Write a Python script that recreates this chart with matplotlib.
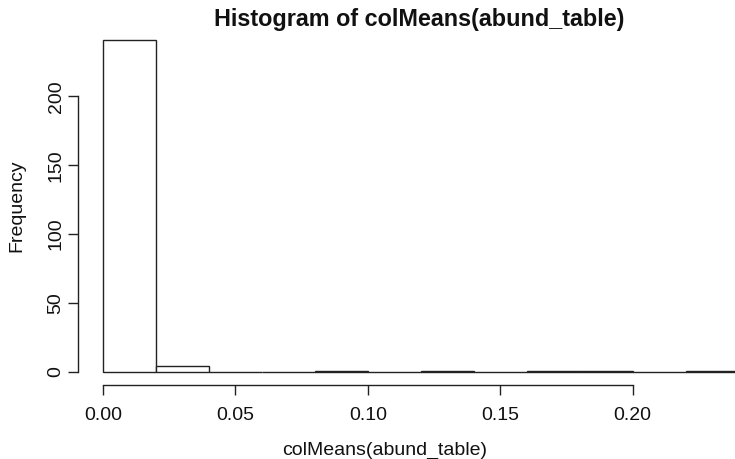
import matplotlib
matplotlib.use("Agg")
import matplotlib.pyplot as plt

# === DATA ===
breaks = [0.00, 0.02, 0.04, 0.06, 0.08, 0.10, 0.12, 0.14, 0.16, 0.18, 0.20, 0.22, 0.24]
counts = [241, 4, 0, 0, 1, 0, 1, 0, 1, 1, 0, 1]
x_ticks = [0.00, 0.05, 0.10, 0.15, 0.20]
x_labels = ["0.00", "0.05", "0.10", "0.15", "0.20"]
y_ticks = [0, 50, 100, 150, 200]

plt.rcParams['font.family'] = ['Liberation Sans', 'DejaVu Sans']

W, H = 735, 459
fig = plt.figure(figsize=(W / 100, H / 100), dpi=100)
# plot region in pixels (R style, cropped at the right)
left_px, right_px, top_px, bottom_px = 77.6, 764, 26.6, 385.2
ax = fig.add_axes([left_px / W, 1 - bottom_px / H,
                   (right_px - left_px) / W, (bottom_px - top_px) / H])

widths = [b - a for a, b in zip(breaks[:-1], breaks[1:])]
ax.bar(breaks[:-1], counts, width=widths, align='edge',
       color='white', edgecolor='#222222', linewidth=1.0)

ax.set_xlim(-0.0096, 0.2496)
ax.set_ylim(-9.64, 250.6)

for s in ['top', 'right']:
    ax.spines[s].set_visible(False)
ax.spines['left'].set_bounds(0, 200)
ax.spines['bottom'].set_bounds(0, 0.20)
for s in ['left', 'bottom']:
    ax.spines[s].set_linewidth(1.0)
    ax.spines[s].set_color('#222222')

ax.set_xticks(x_ticks)
ax.set_xticklabels(x_labels)
ax.set_yticks(y_ticks)
ax.set_yticklabels([str(v) for v in y_ticks], rotation=90, va='center')
ax.tick_params(axis='both', length=7.2, width=1.0, color='#222222',
               labelsize=14, labelcolor='#111111')
ax.tick_params(axis='x', pad=8.6)
ax.tick_params(axis='y', pad=2.2)

# axis titles and main title, placed like R's mtext
fig.text(385 / W, 1 - 455 / H, "colMeans(abund_table)", ha='center', va='baseline',
         fontsize=14, color='#111111')
fig.text(17 / W, 1 - 206 / H, "Frequency", ha='center', va='center', rotation=90,
         fontsize=14, color='#111111')
fig.text(419 / W, 1 - 26 / H, "Histogram of colMeans(abund_table)",
         ha='center', va='baseline', fontsize=16.8, fontweight='bold', color='#111111')

fig.savefig("out.png", dpi=100)
